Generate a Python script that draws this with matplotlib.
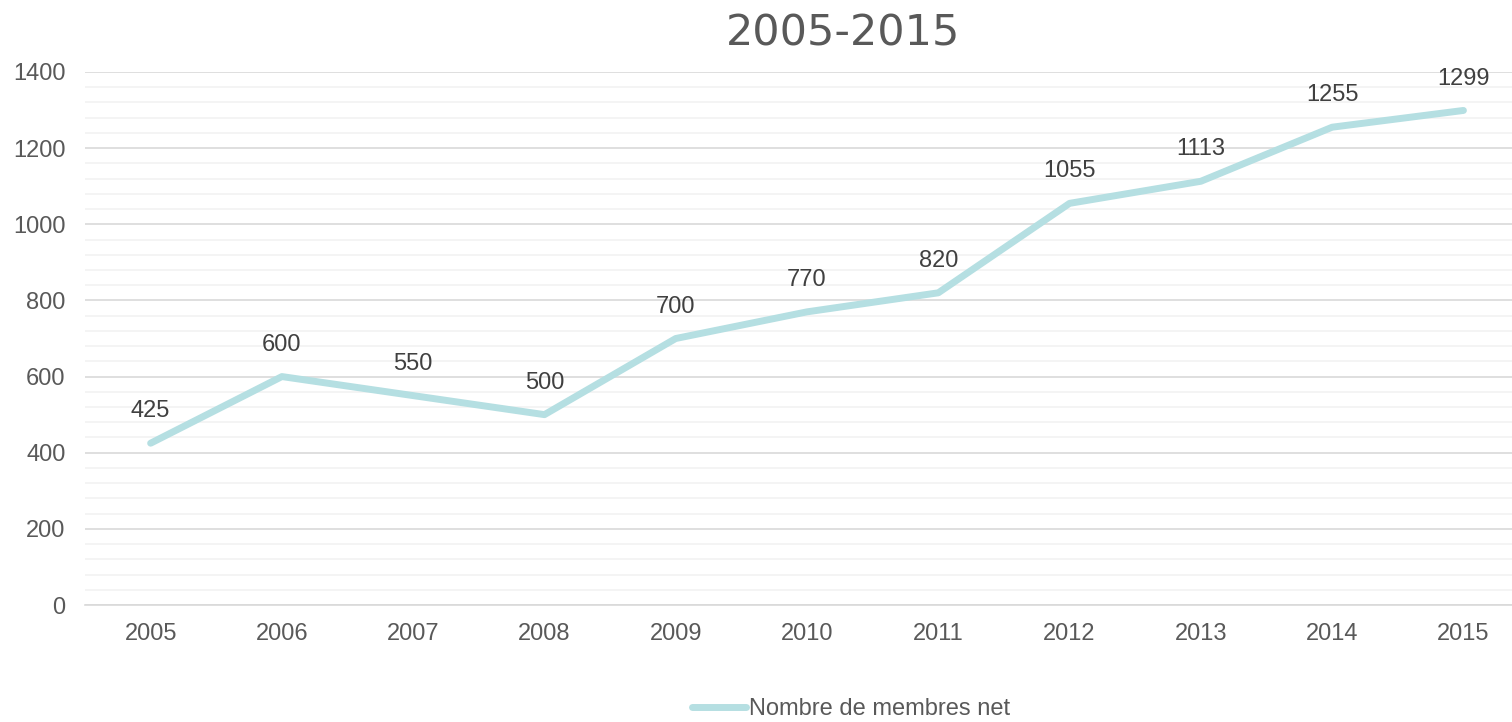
import matplotlib
matplotlib.use("Agg")
import matplotlib.pyplot as plt
import numpy as np

# donnees
annees = ["2005", "2006", "2007", "2008", "2009", "2010", "2011", "2012", "2013", "2014", "2015"]
membres = [425, 600, 550, 500, 700, 770, 820, 1055, 1113, 1255, 1299]
titre = "2005-2015"
serie = "Nombre de membres net"

plt.rcParams['font.family'] = ['Liberation Sans', 'DejaVu Sans']

fig = plt.figure(figsize=(15.12, 7.22), dpi=100)
ax = fig.add_axes([85/1512, 1-605/722, 1-85/1512, (605-72)/722])

x = np.arange(len(annees))
ax.plot(x, membres, color="#B5DFE2", linewidth=5, solid_capstyle="round",
        solid_joinstyle="round", label=serie, zorder=3)

for xi, v in zip(x, membres):
    ax.annotate(str(v), (xi, v), xytext=(0, 23), textcoords="offset points",
                ha="center", va="center", fontsize=17, color="#404040")

ax.set_xlim(-0.5, 10.37)
ax.set_ylim(0, 1400)
ax.set_xticks(x)
ax.set_xticklabels(annees)
ax.set_yticks(np.arange(0, 1401, 200))
ax.set_yticks(np.arange(0, 1401, 40), minor=True)
ax.tick_params(axis="both", which="both", length=0, labelsize=17, colors="#595959")
ax.tick_params(axis="x", pad=13)
ax.tick_params(axis="y", pad=14)
ax.grid(True, which="major", axis="y", color="#D9D9D9", linewidth=1.2)
ax.grid(True, which="minor", axis="y", color="#F2F2F2", linewidth=1.2)
ax.set_axisbelow(True)
for s in ["top", "right", "left"]:
    ax.spines[s].set_visible(False)
ax.spines["bottom"].set_color("#D9D9D9")
ax.spines["bottom"].set_linewidth(1.2)

fig.text(843/1512, 1-34/722, titre, ha="center", va="center", fontsize=31,
         color="#595959", family="DejaVu Sans")

leg = fig.legend(loc="center", bbox_to_anchor=(851/1512, 1-709/722), frameon=False,
                 fontsize=17, handlelength=2.3, handletextpad=0.1, labelcolor="#595959")

fig.savefig("out.png", dpi=100)
